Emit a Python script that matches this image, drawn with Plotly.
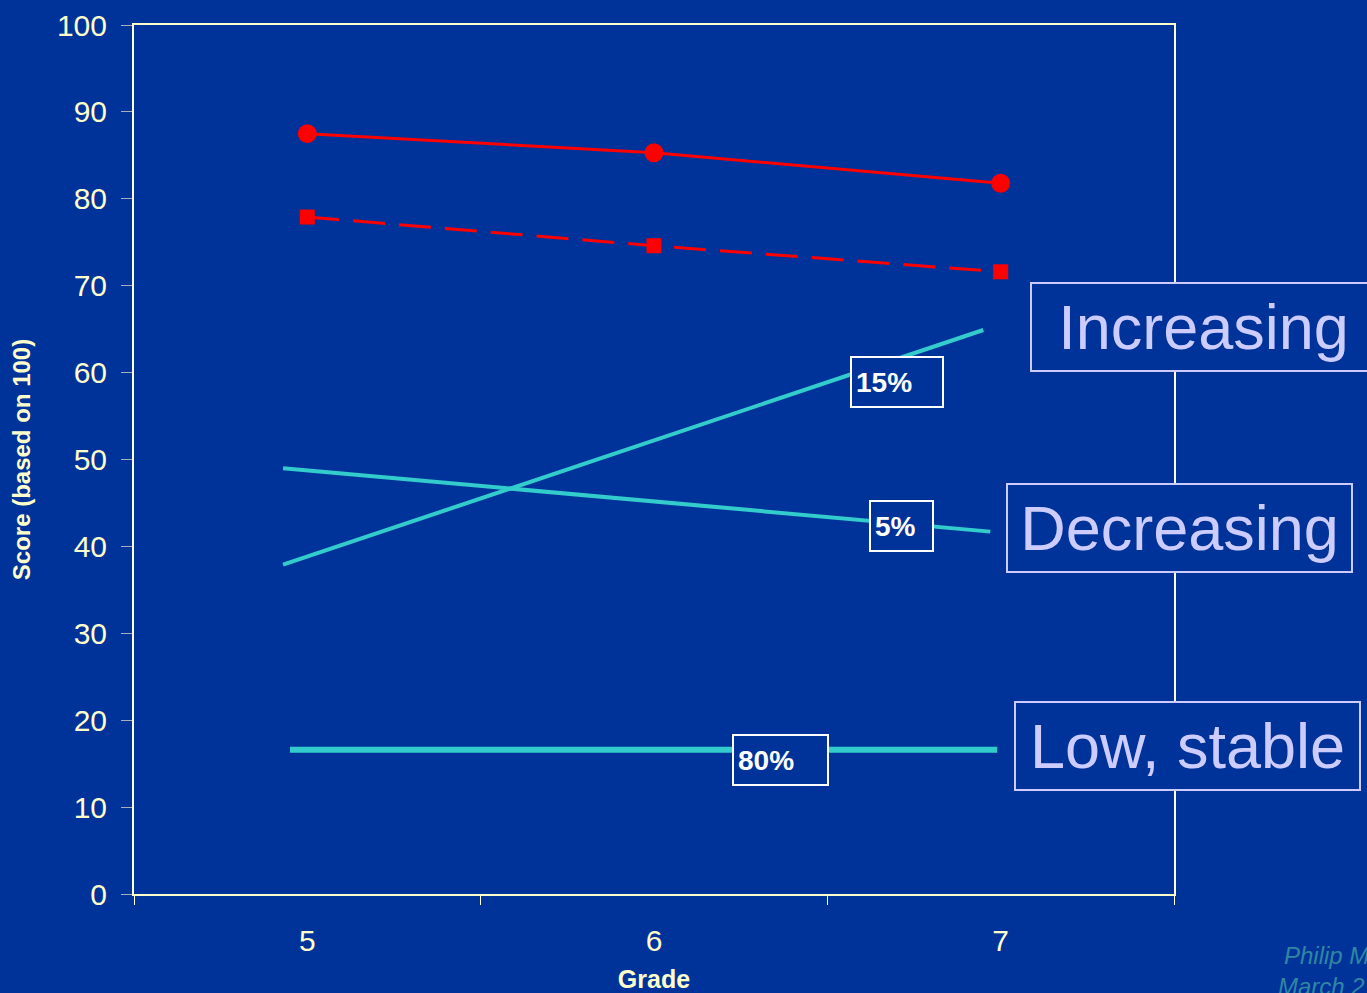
import plotly.graph_objects as go

# Grade categories and mean scores for the two red reference series
grades = [5, 6, 7]
solid_scores = [87.5, 85.3, 81.8]
dashed_scores = [77.9, 74.6, 71.6]

# Trajectory groups (start/end positions along the grade axis)
increasing_x = [4.93, 6.95]
increasing_y = [37.9, 64.9]
decreasing_x = [4.93, 6.97]
decreasing_y = [49.0, 41.7]
stable_x = [4.95, 6.99]
stable_y = [16.6, 16.6]

group_labels = ["15%", "5%", "80%"]
group_label_x = [6.70, 6.713, 6.364]
group_label_y = [58.9, 42.3, 15.4]
group_label_w = [82, 53, 85]

callouts = ["Increasing", "Decreasing", "Low, stable"]
callout_y_px = [327, 528, 746]
callout_x_px = [1030, 1006, 1014]

BG = "#003399"
AXIS = "#FFFFCC"
TEAL = "#33CCCC"
CALLOUT = "#CCCCFF"
FONT = "Liberation Sans, Arial, sans-serif"

W, H = 1367, 993
ML, MR, MT, MB = 134, 193, 25, 99
PW = W - ML - MR
PH = H - MT - MB

fig = go.Figure()

fig.add_trace(go.Scatter(x=grades, y=solid_scores, mode="lines+markers",
                         line=dict(color="#FF0000", width=3),
                         marker=dict(symbol="circle", size=19, color="#FF0000"),
                         showlegend=False))
fig.add_trace(go.Scatter(x=grades, y=dashed_scores, mode="lines+markers",
                         line=dict(color="#FF0000", width=3, dash="32px,14px"),
                         marker=dict(symbol="square", size=15, color="#FF0000"),
                         showlegend=False))
fig.add_trace(go.Scatter(x=increasing_x, y=increasing_y, mode="lines",
                         line=dict(color=TEAL, width=4), showlegend=False))
fig.add_trace(go.Scatter(x=decreasing_x, y=decreasing_y, mode="lines",
                         line=dict(color=TEAL, width=4), showlegend=False))
fig.add_trace(go.Scatter(x=stable_x, y=stable_y, mode="lines",
                         line=dict(color=TEAL, width=6), showlegend=False))

for txt, lx, ly, w in zip(group_labels, group_label_x, group_label_y, group_label_w):
    fig.add_annotation(x=lx, y=ly, xref="x", yref="y", text="<b>%s</b>" % txt,
                       showarrow=False, font=dict(family=FONT, size=28, color="white"),
                       bgcolor=BG, bordercolor="white", borderwidth=2, borderpad=4,
                       width=w, height=40, align="left", valign="middle",
                       xanchor="center", yanchor="middle")

for txt, cx, cy in zip(callouts, callout_x_px, callout_y_px):
    fig.add_annotation(x=(cx - ML) / PW, y=(H - MB - cy) / PH, xref="paper", yref="paper",
                       text=txt, showarrow=False,
                       font=dict(family=FONT, size=63, color=CALLOUT),
                       bgcolor=BG, bordercolor=CALLOUT, borderwidth=2, borderpad=6,
                       width=331, height=74, align="center",
                       xanchor="left", yanchor="middle")

fig.add_annotation(x=(1282 - ML) / PW, y=(H - MB - 955) / PH, xref="paper", yref="paper",
                   text="<i>Philip M</i>", showarrow=False, xanchor="left", yanchor="middle",
                   font=dict(family=FONT, size=24, color="#2F86A3"))
fig.add_annotation(x=(1276 - ML) / PW, y=(H - MB - 986) / PH, xref="paper", yref="paper",
                   text="<i>March 2</i>", showarrow=False, xanchor="left", yanchor="middle",
                   font=dict(family=FONT, size=24, color="#2F86A3"))

fig.update_layout(
    width=W, height=H,
    margin=dict(l=ML, r=MR, t=MT, b=MB),
    paper_bgcolor=BG, plot_bgcolor=BG,
    font=dict(family=FONT, color=AXIS),
)
fig.update_xaxes(
    range=[4.5, 7.5], tickvals=grades, ticktext=[str(g) for g in grades],
    ticks="", showgrid=False, zeroline=False, automargin=False,
    showline=True, linecolor=AXIS, linewidth=2, mirror=True,
    tickfont=dict(size=30, color=AXIS), ticklabelstandoff=19,
    minor=dict(tickvals=[4.5, 5.5, 6.5, 7.5], ticks="outside", ticklen=9,
               tickcolor=AXIS, tickwidth=1, showgrid=False),
    title=dict(text="<b>Grade</b>", font=dict(size=25, color=AXIS), standoff=16),
)
fig.update_yaxes(
    range=[0, 100], dtick=10, ticks="outside", ticklen=11, tickcolor="#A8B0C0",
    showgrid=False, zeroline=False, automargin=False,
    showline=True, linecolor=AXIS, linewidth=2, mirror=True,
    tickfont=dict(size=30, color=AXIS), ticklabelstandoff=8,
    title=dict(text="<b>Score (based on 100)</b>", font=dict(size=24, color=AXIS), standoff=20),
)

fig.write_html("out.html")
